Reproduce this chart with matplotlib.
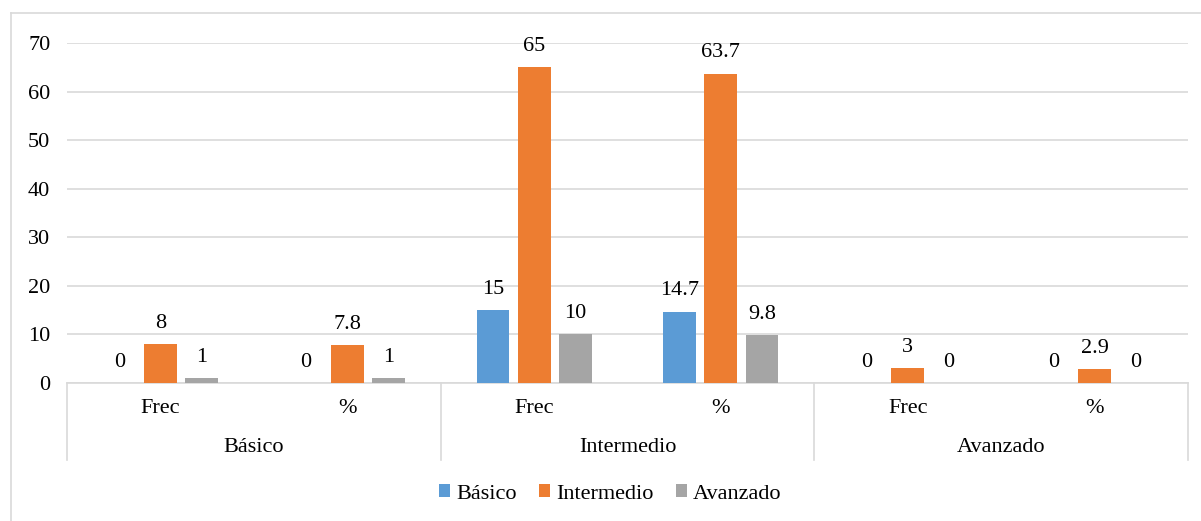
import numpy as np
import matplotlib.pyplot as plt
from matplotlib.lines import Line2D

# datos
grupos = ['Básico', 'Intermedio', 'Avanzado']
sub = ['Frec', '%', 'Frec', '%', 'Frec', '%']
basico = [0, 0, 15, 14.7, 0, 0]
intermedio = [8, 7.8, 65, 63.7, 3, 2.9]
avanzado = [1, 1, 10, 9.8, 0, 0]
etiquetas = [['0', '0', '15', '14.7', '0', '0'],
             ['8', '7.8', '65', '63.7', '3', '2.9'],
             ['1', '1', '10', '9.8', '0', '0']]

plt.rcParams['font.family'] = ['Liberation Serif', 'DejaVu Serif']
fs = 16

W, H = 1201, 521
fig = plt.figure(figsize=(W / 100, H / 100), dpi=100)
ax = fig.add_axes([67 / W, 1 - 383 / H, (1188 - 67) / W, (383 - 43) / H])

colores = ['#5B9BD5', '#ED7D31', '#A5A5A5']
series = [basico, intermedio, avanzado]
nombres = ['Básico', 'Intermedio', 'Avanzado']
x = np.arange(len(sub))
ancho = 0.176
paso = 0.22

for i, (vals, c, n) in enumerate(zip(series, colores, nombres)):
    pos = x + (i - 1) * paso
    ax.bar(pos, vals, width=ancho, color=c, label=n, zorder=3)
    for p, v, t in zip(pos, vals, etiquetas[i]):
        ax.annotate(t, (p, v), xytext=(0, 15), textcoords='offset points',
                    ha='center', va='center', fontsize=fs, color='#000000')

ax.set_xlim(-0.5, 5.5)
ax.set_ylim(0, 70)
ax.set_yticks(range(0, 71, 10))
ax.tick_params(axis='y', length=0, pad=12, labelsize=fs)
ax.set_xticks([])
ax.grid(axis='y', color='#D9D9D9', linewidth=1.2, zorder=0)
for s in ['top', 'right', 'left']:
    ax.spines[s].set_visible(False)
ax.spines['bottom'].set_color('#D9D9D9')
ax.spines['bottom'].set_linewidth(1.2)

# eje de categorias en dos niveles
tr = ax.get_xaxis_transform()
for i, s in enumerate(sub):
    ax.text(i, -0.076, s, transform=tr, ha='center', va='center', fontsize=fs)
for g, nom in enumerate(grupos):
    ax.text(2 * g + 0.5, -0.191, nom, transform=tr, ha='center', va='center', fontsize=fs)
for xs in [-0.5, 1.5, 3.5, 5.5]:
    ax.plot([xs, xs], [0, -0.226], transform=tr, color='#D9D9D9', linewidth=1.2, clip_on=False)

fig.legend(loc='center', bbox_to_anchor=(610 / W, 1 - 494 / H), ncol=3, frameon=False,
           fontsize=fs, handlelength=0.53, handleheight=0.53, handletextpad=0.25,
           columnspacing=1.0)

# borde del grafico
fig.add_artist(Line2D([11 / W, 11 / W], [0, 1 - 13 / H], color='#D9D9D9', linewidth=1.2))
fig.add_artist(Line2D([11 / W, 1], [1 - 13 / H, 1 - 13 / H], color='#D9D9D9', linewidth=1.2))

fig.savefig('out.png', dpi=100)
